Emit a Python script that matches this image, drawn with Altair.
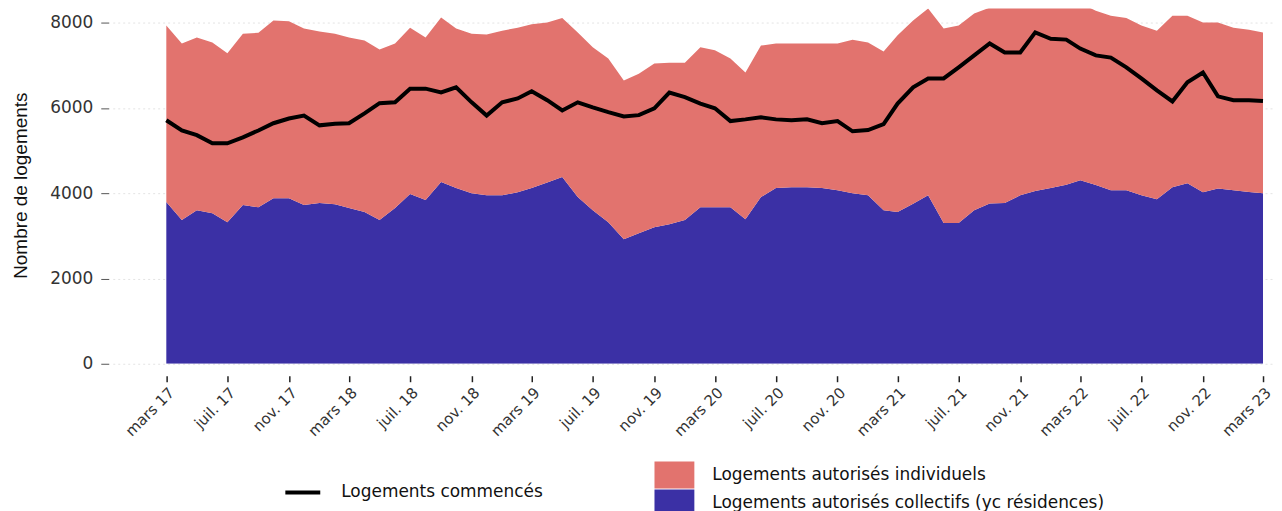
import altair as alt
import pandas as pd

# Monthly values, mars 2017 -> mars 2023 (73 months)
months = [d.strftime("%Y-%m-%d") for d in pd.date_range("2017-03-01", periods=73, freq="MS")]

collectifs = [3790, 3370, 3600, 3530, 3320, 3720, 3670, 3880, 3880, 3720,
              3770, 3740, 3650, 3560, 3370, 3650, 3980, 3840, 4260, 4120,
              4000, 3950, 3950, 4020, 4120, 4250, 4380, 3910, 3600, 3320,
              2920, 3060, 3200, 3270, 3370, 3670, 3670, 3670, 3390, 3910,
              4120, 4140, 4140, 4120, 4070, 4000, 3950, 3600, 3560, 3750,
              3950, 3300, 3300, 3600, 3760, 3770, 3950, 4050, 4120, 4200,
              4300, 4190, 4070, 4070, 3950, 3860, 4140, 4230, 4020, 4110,
              4070, 4030, 4000]

individuels = [4140, 4140, 4050, 4000, 3960, 4020, 4090, 4170, 4150, 4140,
               4020, 4000, 4000, 4020, 4000, 3860, 3900, 3810, 3860, 3740,
               3740, 3770, 3860, 3860, 3840, 3750, 3730, 3860, 3820, 3840,
               3720, 3740, 3840, 3790, 3690, 3750, 3680, 3490, 3440, 3550,
               3390, 3370, 3370, 3390, 3440, 3600, 3580, 3720, 4140, 4300,
               4380, 4560, 4630, 4610, 4590, 4630, 4470, 4370, 4320, 4260,
               4150, 4090, 4090, 4040, 3980, 3950, 4020, 3930, 3980, 3890,
               3810, 3800, 3770]

commences = [5710, 5470, 5360, 5170, 5170, 5310, 5470, 5640, 5750, 5820,
             5590, 5630, 5640, 5870, 6110, 6130, 6450, 6450, 6360, 6480,
             6130, 5820, 6130, 6220, 6390, 6180, 5940, 6130, 6010, 5900,
             5800, 5830, 5990, 6360, 6250, 6100, 5990, 5690, 5730, 5780,
             5730, 5710, 5730, 5640, 5690, 5450, 5480, 5620, 6100, 6480,
             6690, 6690, 6950, 7230, 7510, 7300, 7300, 7770, 7620, 7600,
             7390, 7230, 7180, 6950, 6690, 6410, 6150, 6600, 6830, 6270,
             6180, 6180, 6160]

lab_ind = "Logements autorisés individuels"
lab_col = "Logements autorisés collectifs (yc résidences)"
lab_com = "Logements commencés"

area_df = pd.DataFrame({
    "mois": months * 2,
    "valeur": collectifs + individuels,
    "serie": [lab_col] * len(months) + [lab_ind] * len(months),
    "ordre": [0] * len(months) + [1] * len(months),
})
line_df = pd.DataFrame({"mois": months, "valeur": commences, "serie": [lab_com] * len(months)})

tick_values = [alt.DateTime(year=y, month=m, date=1, utc=True)
               for y in range(2017, 2024) for m in (3, 7, 11)
               if not (y == 2023 and m > 3)]

label_expr = ("(utcFormat(datum.value, '%m') == '03' ? 'mars' : "
              "utcFormat(datum.value, '%m') == '07' ? 'juil.' : 'nov.') + ' ' + utcFormat(datum.value, '%y')")

x_enc = alt.X(
    "mois:T",
    scale=alt.Scale(type="utc",
                    domain=[alt.DateTime(year=2016, month=11, date=14, utc=True),
                            alt.DateTime(year=2023, month=3, date=21, utc=True)]),
    axis=alt.Axis(values=tick_values, labelExpr=label_expr, title=None, grid=False,
                  domain=False, offset=12, tickSize=6, tickColor="#222", tickWidth=1.5,
                  labelAngle=315, labelFontSize=15, labelPadding=3,
                  labelFont="DejaVu Sans", labelColor="#333"),
)

y_scale = alt.Scale(domain=[0, 8327.5], nice=False)

area = alt.Chart(area_df).mark_area(clip=True, opacity=1).encode(
    x=x_enc,
    y=alt.Y("valeur:Q", stack="zero", scale=y_scale,
            axis=alt.Axis(values=[0, 2000, 4000, 6000, 8000], format="d",
                          title="Nombre de logements", titleFont="Liberation Sans",
                          titleFontSize=19, titleFontWeight="normal", titleColor="#111",
                          titleAngle=270, titleX=-78, titleY=177, titleBaseline="bottom",
                          titleAlign="center",
                          domain=False, offset=4, tickSize=8, tickColor="#555",
                          labelPadding=8, labelFontSize=17, labelFont="DejaVu Sans",
                          labelColor="#333",
                          grid=True, gridColor="#e3e3e3", gridDash=[2, 3], gridWidth=1)),
    color=alt.Color("serie:N",
                    scale=alt.Scale(domain=[lab_ind, lab_col], range=["#E2736E", "#3B30A5"]),
                    legend=alt.Legend(title=None, orient="none", legendX=549.5, legendY=454,
                                      symbolType="M-1.48,-1H1.48V1H-1.48Z", symbolSize=729,
                                      symbolStrokeWidth=0, symbolOpacity=1,
                                      labelOffset=24.5, rowPadding=1, padding=0,
                                      labelFontSize=17, labelFont="DejaVu Sans",
                                      labelColor="#111", labelLimit=600)),
    order=alt.Order("ordre:Q", sort="ascending"),
)

line = alt.Chart(line_df).mark_line(color="black", strokeWidth=4, clip=True).encode(
    x="mois:T",
    y=alt.Y("valeur:Q", scale=y_scale),
    stroke=alt.Stroke("serie:N",
                      scale=alt.Scale(domain=[lab_com], range=["black"]),
                      legend=alt.Legend(title=None, orient="none", legendX=171, legendY=465.5,
                                        symbolType="stroke", symbolSize=1225,
                                        symbolStrokeWidth=4, labelOffset=19, padding=0,
                                        labelFontSize=17, labelFont="DejaVu Sans",
                                        labelColor="#111", labelLimit=600)),
)

chart = alt.layer(area, line).properties(
    width=1163, height=356,
    padding={"left": 4, "top": 0, "right": 0, "bottom": 0},
    background="white",
).configure_view(stroke=None)

chart.save("out.html", embed_options={"renderer": "svg", "actions": False})
